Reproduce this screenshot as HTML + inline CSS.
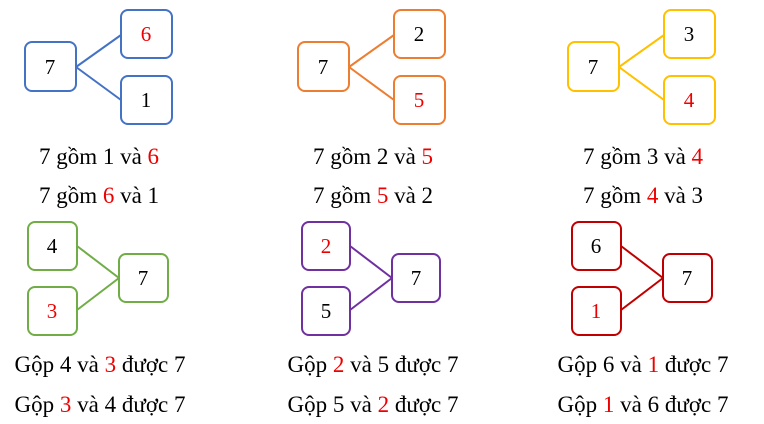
<!DOCTYPE html>
<html><head><meta charset="utf-8"><style>body{margin:0;background:#fff}svg{display:block}text{font-family:"Liberation Serif",serif;font-size:21px;fill:#000}.c{font-size:23px}.r{fill:#e00}</style></head><body>
<svg width="764" height="424" viewBox="0 0 764 424">
<g fill="#fff" stroke-width="2">
<g stroke="#4472c4">
<line x1="76" y1="67" x2="121" y2="35"/><line x1="76" y1="67" x2="121" y2="100"/>
<rect x="25" y="42" width="51" height="49" rx="7"/><rect x="121" y="10" width="51" height="48" rx="7"/><rect x="121" y="76" width="51" height="48" rx="7"/></g>
<g stroke="#ed7d31">
<line x1="349" y1="67" x2="394" y2="35"/><line x1="349" y1="67" x2="394" y2="100"/>
<rect x="298" y="42" width="51" height="49" rx="7"/><rect x="394" y="10" width="51" height="48" rx="7"/><rect x="394" y="76" width="51" height="48" rx="7"/></g>
<g stroke="#ffc000">
<line x1="619" y1="67" x2="664" y2="35"/><line x1="619" y1="67" x2="664" y2="100"/>
<rect x="568" y="42" width="51" height="49" rx="7"/><rect x="664" y="10" width="51" height="48" rx="7"/><rect x="664" y="76" width="51" height="48" rx="7"/></g>
<g stroke="#70ad47">
<line x1="77" y1="246" x2="119" y2="278"/><line x1="77" y1="310" x2="119" y2="278"/>
<rect x="28" y="222" width="49" height="48" rx="7"/><rect x="28" y="287" width="49" height="48" rx="7"/><rect x="119" y="254" width="49" height="48" rx="7"/></g>
<g stroke="#7030a0">
<line x1="350" y1="246" x2="392" y2="278"/><line x1="350" y1="310" x2="392" y2="278"/>
<rect x="302" y="222" width="48" height="48" rx="7"/><rect x="302" y="287" width="48" height="48" rx="7"/><rect x="392" y="254" width="48" height="48" rx="7"/></g>
<g stroke="#c00000">
<line x1="621" y1="246" x2="663" y2="278"/><line x1="621" y1="310" x2="663" y2="278"/>
<rect x="572" y="222" width="49" height="48" rx="7"/><rect x="572" y="287" width="49" height="48" rx="7"/><rect x="663" y="254" width="49" height="48" rx="7"/></g>
</g>
<g text-anchor="middle">
<text x="50" y="74">7</text><text x="146" y="41" class="r">6</text><text x="146" y="107">1</text>
<text x="323" y="74">7</text><text x="419" y="41">2</text><text x="419" y="107" class="r">5</text>
<text x="593" y="74">7</text><text x="689" y="41">3</text><text x="689" y="107" class="r">4</text>
<text x="52" y="253">4</text><text x="52" y="318" class="r">3</text><text x="143" y="285">7</text>
<text x="326" y="253" class="r">2</text><text x="326" y="318">5</text><text x="416" y="285">7</text>
<text x="596" y="253">6</text><text x="596" y="318" class="r">1</text><text x="687" y="285">7</text>
<text class="c" x="99" y="164">7 gồm 1 và <tspan class="r">6</tspan></text>
<text class="c" x="99" y="203">7 gồm <tspan class="r">6</tspan> và 1</text>
<text class="c" x="373" y="164">7 gồm 2 và <tspan class="r">5</tspan></text>
<text class="c" x="373" y="203">7 gồm <tspan class="r">5</tspan> và 2</text>
<text class="c" x="643" y="164">7 gồm 3 và <tspan class="r">4</tspan></text>
<text class="c" x="643" y="203">7 gồm <tspan class="r">4</tspan> và 3</text>
<text class="c" x="100" y="372">Gộp 4 và <tspan class="r">3</tspan> được 7</text>
<text class="c" x="100" y="412">Gộp <tspan class="r">3</tspan> và 4 được 7</text>
<text class="c" x="373" y="372">Gộp <tspan class="r">2</tspan> và 5 được 7</text>
<text class="c" x="373" y="412">Gộp 5 và <tspan class="r">2</tspan> được 7</text>
<text class="c" x="643" y="372">Gộp 6 và <tspan class="r">1</tspan> được 7</text>
<text class="c" x="643" y="412">Gộp <tspan class="r">1</tspan> và 6 được 7</text>
</g>
</svg>
</body></html>
